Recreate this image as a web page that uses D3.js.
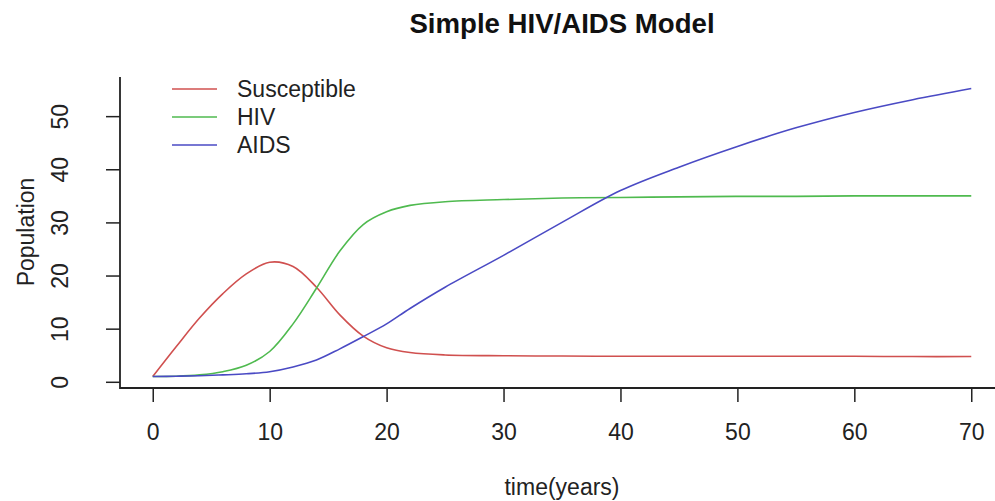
<!DOCTYPE html>
<html>
<head>
<meta charset="utf-8">
<script src="https://cdn.jsdelivr.net/npm/d3@7"></script>
<style>
  body { margin: 0; background: #fff; }
  svg { display: block; font-family: "Liberation Sans", Arial, sans-serif; }
</style>
</head>
<body>
<script>
// time points (years)
const times = [0, 2, 4, 6, 8, 10, 12, 14, 16, 18, 20, 22, 25, 30, 35, 40, 45, 50, 55, 60, 65, 70];

const susceptible = [1.0, 6.6, 12.0, 16.6, 20.3, 22.5, 21.7, 17.8, 12.6, 8.6, 6.4, 5.5, 5.05, 4.9, 4.85, 4.8, 4.8, 4.8, 4.8, 4.8, 4.75, 4.75];
const hiv = [1.0, 1.05, 1.3, 1.9, 3.1, 5.7, 10.9, 17.6, 24.6, 29.6, 32.0, 33.2, 33.9, 34.3, 34.6, 34.7, 34.8, 34.9, 34.9, 35.0, 35.0, 35.0];
const aids = [1.0, 1.05, 1.15, 1.3, 1.5, 1.9, 2.8, 4.1, 6.2, 8.5, 10.9, 13.8, 17.8, 23.8, 30.0, 36.0, 40.4, 44.3, 47.8, 50.7, 53.1, 55.2];

const seriesNames = ["Susceptible", "HIV", "AIDS"];
const seriesColors = ["#d0504f", "#4fba4f", "#4a4ac4"];
const xTicks = [0, 10, 20, 30, 40, 50, 60, 70];
const yTicks = [0, 10, 20, 30, 40, 50];

const width = 995;
const height = 501;
const fs = 23;

const svg = d3.select("body").append("svg")
    .attr("width", width)
    .attr("height", height);

// R-style 4% extension of the data range
const xr = d3.extent(times);
const xpad = (xr[1] - xr[0]) * 0.04;
const allY = susceptible.concat(hiv, aids);
const yr = d3.extent(allY);
const ypad = (yr[1] - yr[0]) * 0.04;

const x = d3.scaleLinear().domain([xr[0] - xpad, xr[1] + xpad]).range([120, 1004]);
const y = d3.scaleLinear().domain([yr[0] - ypad, yr[1] + ypad]).range([388, 77]);

// x axis
const gx = svg.append("g")
    .attr("transform", "translate(0,388)")
    .call(d3.axisBottom(x).tickValues(xTicks).tickSize(14).tickSizeOuter(0));
gx.select(".domain").remove();
gx.selectAll(".tick line").attr("stroke", "#222").attr("stroke-width", 1.5);
gx.selectAll(".tick text")
    .attr("y", 52).attr("dy", null)
    .attr("fill", "#222")
    .style("font-size", fs + "px")
    .style("font-family", "Liberation Sans, Arial, sans-serif");

// y axis
const gy = svg.append("g")
    .attr("transform", "translate(120,0)")
    .call(d3.axisLeft(y).tickValues(yTicks).tickSize(14).tickSizeOuter(0));
gy.select(".domain").remove();
gy.selectAll(".tick line").attr("stroke", "#222").attr("stroke-width", 1.5);
gy.selectAll(".tick text")
    .attr("x", null).attr("dy", null)
    .attr("text-anchor", "middle")
    .attr("transform", "translate(-52,0) rotate(-90)")
    .attr("fill", "#222")
    .style("font-size", fs + "px")
    .style("font-family", "Liberation Sans, Arial, sans-serif");

// L-shaped box
svg.append("path")
    .attr("d", `M${x.range()[0]},${y.range()[1]}V${y.range()[0]}H${x.range()[1]}`)
    .attr("fill", "none")
    .attr("stroke", "#222")
    .attr("stroke-width", 1.8);

// lines
const line = d3.line()
    .x((d, i) => x(times[i]))
    .y(d => y(d))
    .curve(d3.curveCatmullRom.alpha(0.5));

[susceptible, hiv, aids].forEach((s, i) => {
    svg.append("path")
        .datum(s)
        .attr("d", line)
        .attr("fill", "none")
        .attr("stroke", seriesColors[i])
        .attr("stroke-width", 1.6);
});

// legend
const legend = svg.append("g");
seriesNames.forEach((name, i) => {
    const ly = 89 + i * 28;
    legend.append("line")
        .attr("x1", 172).attr("x2", 217)
        .attr("y1", ly).attr("y2", ly)
        .attr("stroke", seriesColors[i])
        .attr("stroke-width", 1.6);
    legend.append("text")
        .attr("x", 237).attr("y", ly + 8)
        .attr("fill", "#222")
        .style("font-size", fs + "px")
        .text(name);
});

// titles
svg.append("text")
    .attr("x", 562).attr("y", 33)
    .attr("text-anchor", "middle")
    .style("font-size", (fs * 1.2) + "px")
    .style("font-weight", "bold")
    .attr("fill", "#111")
    .text("Simple HIV/AIDS Model");

svg.append("text")
    .attr("x", 562).attr("y", 495)
    .attr("text-anchor", "middle")
    .style("font-size", fs + "px")
    .attr("fill", "#222")
    .text("time(years)");

svg.append("text")
    .attr("transform", "translate(34,232) rotate(-90)")
    .attr("text-anchor", "middle")
    .style("font-size", fs + "px")
    .attr("fill", "#222")
    .text("Population");
</script>
</body>
</html>
